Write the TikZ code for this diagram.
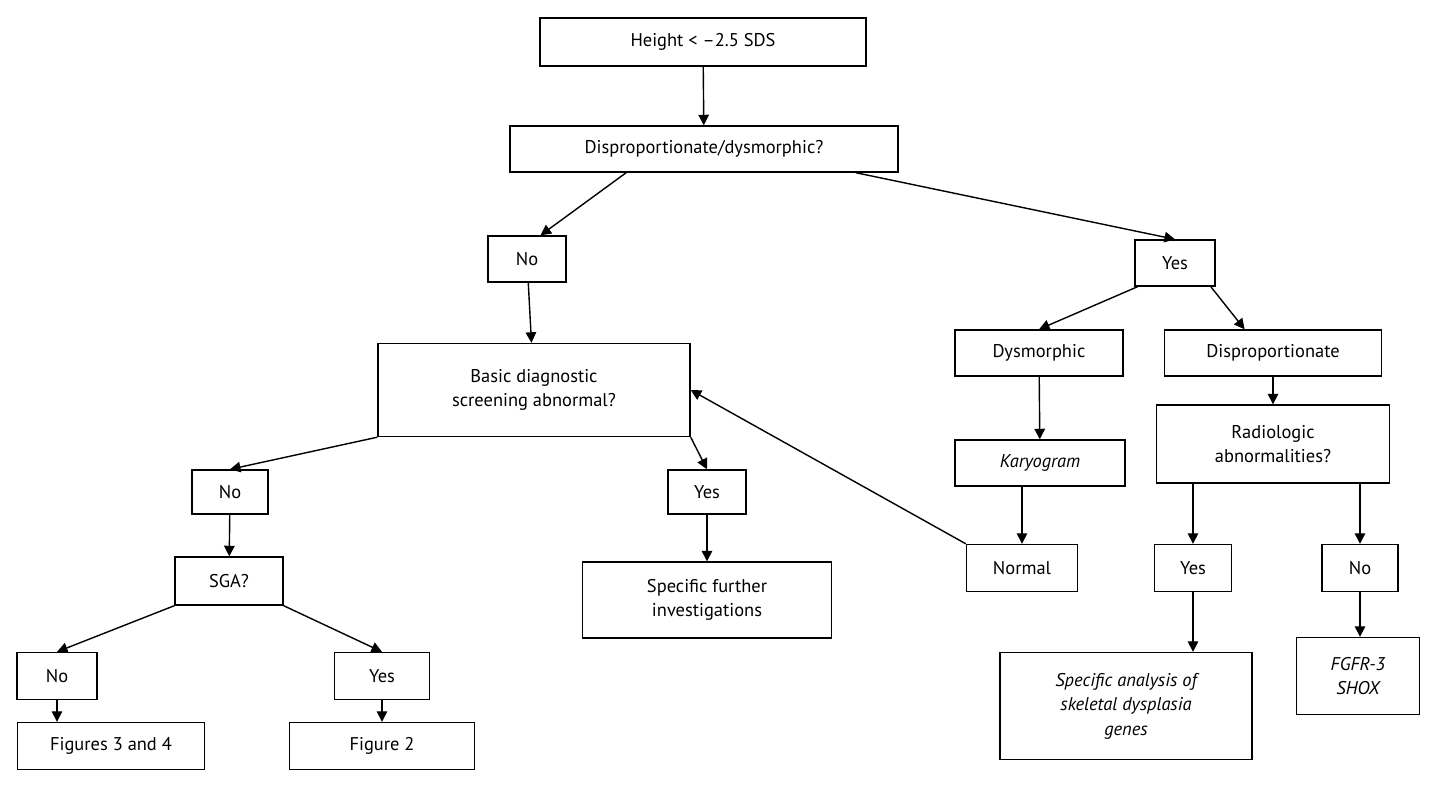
\documentclass[tikz,border=0pt]{standalone}
\usepackage{fontspec}
\setmainfont{PT Sans}
\usetikzlibrary{arrows.meta,calc}
\tikzset{
  box/.style={draw, thick, align=center, inner sep=1pt, font=\fontsize{10.5}{14}\selectfont},
  arr/.style={-{Triangle[length=6pt,width=6pt]}, thick}
}
\begin{document}
\begin{tikzpicture}[x=0.02cm,y=-0.02cm]
\useasboundingbox (0,0) rectangle (1440,789);
% top
\node[box, minimum width=6.52cm, minimum height=0.96cm] (height) at (703,42) {Height {<} --2.5 SDS};
\node[box, minimum width=7.76cm, minimum height=0.92cm] (dispdysm) at (704,149) {Disproportionate/dysmorphic?};
\node[box, minimum width=1.56cm, minimum height=0.92cm] (no1) at (527,259) {No};
\node[box, minimum width=1.6cm, minimum height=0.92cm] (yes1) at (1175,263) {Yes};
% left branch
\node[box, minimum width=6.24cm, minimum height=1.86cm] (basic) at (534,390) {Basic diagnostic\\screening abnormal?};
\node[box, minimum width=1.52cm, minimum height=0.88cm] (no2) at (230,492) {No};
\node[box, minimum width=1.56cm, minimum height=0.88cm] (yes2) at (707,492) {Yes};
\node[box, minimum width=2.16cm, minimum height=0.96cm] (sga) at (229,581) {SGA?};
\node[box, minimum width=4.98cm, minimum height=1.52cm] (further) at (707,600) {Specific further\\investigations};
\node[box, minimum width=1.6cm, minimum height=0.94cm] (no3) at (57,676) {No};
\node[box, minimum width=1.9cm, minimum height=0.94cm] (yes3) at (382,676) {Yes};
\node[box, minimum width=3.74cm, minimum height=0.94cm] (fig34) at (111,746) {Figures 3 and 4};
\node[box, minimum width=3.7cm, minimum height=0.94cm] (fig2) at (382,746) {Figure 2};
% right branch
\node[box, minimum width=3.36cm, minimum height=0.92cm] (dysm) at (1039,353) {Dysmorphic};
\node[box, minimum width=4.34cm, minimum height=0.92cm] (disp) at (1273,353) {Disproportionate};
\node[box, minimum width=3.4cm, minimum height=0.92cm] (karyo) at (1040,463) {\itshape Karyogram};
\node[box, minimum width=4.66cm, minimum height=1.56cm] (radio) at (1273,444) {Radiologic\\abnormalities?};
\node[box, minimum width=2.22cm, minimum height=0.94cm] (normal) at (1022,568) {Normal};
\node[box, minimum width=1.54cm, minimum height=0.94cm] (yes4) at (1193,568) {Yes};
\node[box, minimum width=1.52cm, minimum height=0.94cm] (no4) at (1360,568) {No};
\node[box, minimum width=5.04cm, minimum height=2.14cm] (skel) at (1126,706) {\itshape Specific analysis of\\\itshape skeletal dysplasia\\\itshape genes};
\node[box, minimum width=2.46cm, minimum height=1.54cm] (fgfr) at (1358,676) {\itshape FGFR-3\\\itshape SHOX};
% connectors
\draw[arr] (height) -- (dispdysm);
\draw[arr] ($(dispdysm.south west)!0.3!(dispdysm.south east)$) -- ($(no1.north west)!0.67!(no1.north east)$);
\draw[arr] ($(dispdysm.south west)!0.89!(dispdysm.south east)$) -- (yes1.north);
\draw[arr] (no1) -- (basic);
\draw[arr] ($(yes1.south west)!0.04!(yes1.south east)$) -- (dysm.north);
\draw[arr] ($(yes1.south west)!0.94!(yes1.south east)$) -- ($(disp.north west)!0.37!(disp.north east)$);
\draw[arr] (dysm) -- (karyo);
\draw[arr] (karyo.south -| normal) -- (normal);
\draw[arr] (normal.north west) -- (basic.east);
\draw[arr] (disp) -- (radio);
\draw[arr] (radio.south -| yes4) -- (yes4);
\draw[arr] (radio.south -| no4) -- (no4);
\draw[arr] (yes4) -- (yes4 |- skel.north);
\draw[arr] (no4) -- (no4 |- fgfr.north);
\draw[arr] (basic.south west) -- (no2.north);
\draw[arr] (basic.south east) -- (yes2.north);
\draw[arr] (no2) -- (sga);
\draw[arr] (yes2) -- (further);
\draw[arr] (sga.south west) -- (no3.north);
\draw[arr] (sga.south east) -- (yes3.north);
\draw[arr] (no3) -- (no3 |- fig34.north);
\draw[arr] (yes3) -- (fig2);
\end{tikzpicture}
\end{document}
